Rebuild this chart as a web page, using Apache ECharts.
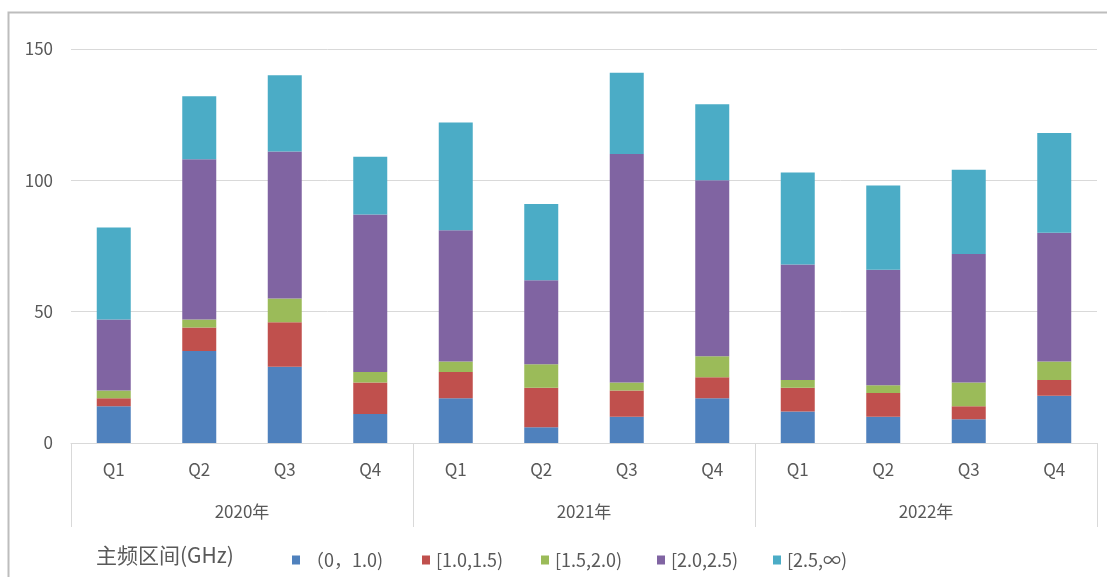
<!DOCTYPE html>
<html lang="zh">
<head>
    <meta charset="utf-8">
    <title>主频区间</title>
    <script src="https://cdn.jsdelivr.net/npm/echarts@6/dist/echarts.min.js"></script>
    <style>
        html, body { margin: 0; height: 100%; background: #fff; }
        #main { width: 1107px; height: 577px; }
    </style>
</head>
<body>
    <div id="main"></div>
    <script type="text/javascript">
        // 数据
        var quarters = ['Q1', 'Q2', 'Q3', 'Q4', 'Q1', 'Q2', 'Q3', 'Q4', 'Q1', 'Q2', 'Q3', 'Q4'];
        var years = ['2020年', '2021年', '2022年'];
        var seriesNames = ['（0，1.0)', '[1.0,1.5)', '[1.5,2.0)', '[2.0,2.5)', '[2.5,∞)'];
        var s0to1 = [14, 35, 29, 11, 17, 6, 10, 17, 12, 10, 9, 18];
        var s1to15 = [3, 9, 17, 12, 10, 15, 10, 8, 9, 9, 5, 6];
        var s15to2 = [3, 3, 9, 4, 4, 9, 3, 8, 3, 3, 9, 7];
        var s2to25 = [27, 61, 56, 60, 50, 32, 87, 67, 44, 44, 49, 49];
        var s25up = [35, 24, 29, 22, 41, 29, 31, 29, 35, 32, 32, 38];
        var yTicks = [0, 50, 100, 150];

        var seriesData = [s0to1, s1to15, s15to2, s2to25, s25up];
        var colors = ['#4F81BD', '#C0504D', '#9BBB59', '#8064A2', '#4BACC6'];
        var legendLeft = [292, 422, 541, 657, 773];
        var font = '"Noto Sans CJK SC", "Noto Sans", sans-serif';
        var textColor = '#595959';

        var myChart = echarts.init(document.getElementById('main'));

        // 每个图例单独定位
        var legends = seriesNames.map(function (name, i) {
            return {
                data: [name],
                left: legendLeft[i],
                top: 551,
                padding: 0,
                itemWidth: 8,
                itemHeight: 9,
                itemGap: 0,
                icon: 'rect',
                textStyle: { color: textColor, fontSize: 18, fontFamily: font, padding: [0, 0, 0, 1] }
            };
        });

        var option = {
            animation: false,
            color: colors,
            title: {
                text: '主频区间(GHz)',
                left: 96,
                top: 545,
                padding: 0,
                textStyle: { color: textColor, fontSize: 21, fontWeight: 'normal', fontFamily: font }
            },
            legend: legends,
            graphic: [{
                type: 'rect',
                shape: { x: 8.5, y: 12.5, width: 1200, height: 700 },
                style: { fill: 'none', stroke: '#bdbdbd', lineWidth: 2 },
                silent: true
            }],
            grid: { left: 71, right: 10, top: 49, bottom: 134 },
            xAxis: [
                {
                    type: 'category',
                    data: quarters,
                    axisLine: { lineStyle: { color: '#d9d9d9' } },
                    axisTick: { show: false },
                    axisLabel: { color: textColor, fontSize: 17, fontFamily: font, margin: 18, interval: 0 }
                },
                {
                    type: 'category',
                    data: years,
                    position: 'bottom',
                    axisLine: { show: false },
                    axisTick: { show: true, length: 84, lineStyle: { color: '#d9d9d9' } },
                    axisLabel: { color: textColor, fontSize: 17, fontFamily: font, margin: 60 }
                }
            ],
            yAxis: {
                type: 'value',
                min: yTicks[0],
                max: yTicks[yTicks.length - 1],
                interval: 50,
                axisLine: { show: false },
                axisTick: { show: false },
                splitLine: { lineStyle: { color: '#d9d9d9' } },
                axisLabel: { color: textColor, fontSize: 17, fontFamily: font, margin: 18 }
            },
            series: seriesNames.map(function (name, i) {
                return {
                    name: name,
                    type: 'bar',
                    stack: 'total',
                    barWidth: 34,
                    data: seriesData[i]
                };
            })
        };

        myChart.setOption(option);
    </script>
</body>
</html>
